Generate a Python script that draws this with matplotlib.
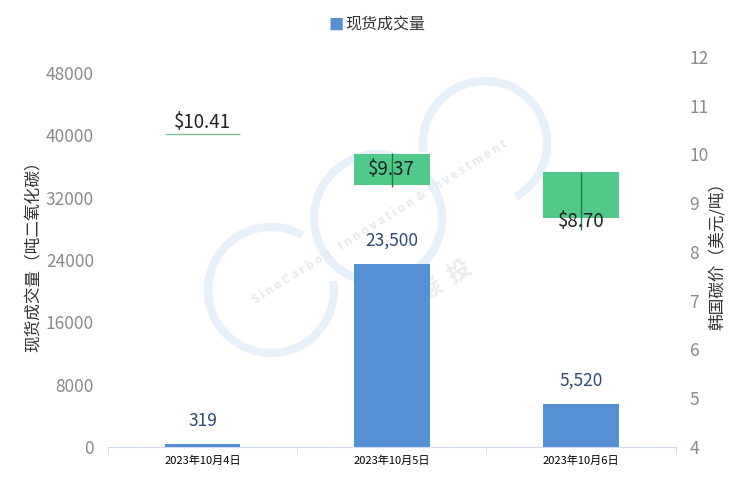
import matplotlib
matplotlib.use('Agg')
import matplotlib.pyplot as plt
import numpy as np
from matplotlib.patches import Arc

plt.rcParams['font.family'] = ['Noto Sans CJK SC', 'DejaVu Sans']

# données
dates = ['2023年10月4日', '2023年10月5日', '2023年10月6日']
volume = [319, 23500, 5520]
price_open = [10.41, 9.37, 8.70]
price_close = [10.41, 10.00, 9.64]
price_low = [10.41, 9.34, 8.45]
price_high = [10.41, 10.02, 9.64]
price_labels = ['$10.41', '$9.37', '$8.70']

bar_color = '#5590d5'
candle_color = '#50c98a'
x = np.arange(len(dates))
w = 0.4

fig = plt.figure(figsize=(7.55, 4.78), dpi=100)

# filigrane (fond, coordonnées en pixels)
bg = fig.add_axes([0, 0, 1, 1], zorder=-1)
bg.set_xlim(0, 755)
bg.set_ylim(478, 0)
bg.axis('off')
for (cx, cy, r, t1, t2) in [(271, 290, 63, 60, 368), (378, 218, 64, 0, 360), (485, 143, 62, -60, 188)]:
    bg.add_patch(Arc((cx, cy), 2 * r, 2 * r, theta1=-t2, theta2=-t1, lw=6, color='#e8f1fa'))
bg.text(380, 222, 'S i n o C a r b o n    I n n o v a t i o n  &  I n v e s t m e n t',
        rotation=32, ha='center', va='center', fontsize=8.5, color='#e6e9ee', fontweight='bold')
bg.text(430, 290, '中  碳  投', rotation=32, ha='center', va='center', fontsize=17, color='#ececec', fontweight='bold')

ax = fig.add_axes([0.143, 0.065, 0.752, 0.816])
ax.patch.set_visible(False)
ax2 = ax.twinx()
ax2.patch.set_visible(False)

ax.bar(x, volume, width=w, color=bar_color, zorder=3)
for xi, v in zip(x, volume):
    ax.text(xi, v + 1800, f'{v:,}', ha='center', va='bottom', fontsize=12.5, color='#2e4a78', zorder=5)

ax.set_xlim(-0.5, len(dates) - 0.5)
ax.set_ylim(0, 50050)
ax.set_yticks(np.arange(0, 48001, 8000))
ax.set_xticks(x)
ax.set_xticklabels(dates, fontsize=8)
ax.set_xticks(np.arange(-0.5, len(dates)), minor=True)
ax.tick_params(axis='x', which='major', length=0, pad=6)
ax.tick_params(axis='x', which='minor', length=5, color='#d0dced')
ax.tick_params(axis='y', length=0, labelsize=12.5, labelcolor='#8a8a8a', pad=10)
ax.set_ylabel('现货成交量（吨二氧化碳）', fontsize=12, color='#333333', labelpad=2)

for s in ['top', 'right', 'left']:
    ax.spines[s].set_visible(False)
ax.spines['bottom'].set_color('#d0dced')

# prix (bougies)
for i in x:
    lo, hi = min(price_open[i], price_close[i]), max(price_open[i], price_close[i])
    if hi - lo < 1e-6:
        ax2.hlines(price_open[i], i - w / 2, i + w / 2, color='#7fbf9a', lw=1, zorder=4)
    else:
        ax2.bar(i, hi - lo, bottom=lo, width=w, color=candle_color, zorder=3)
        ax2.vlines(i, price_low[i], price_high[i], color='#1f7a45', lw=1, zorder=4)

ax2.text(x[0], price_close[0] + 0.02, price_labels[0], ha='center', va='bottom', fontsize=13.5, color='#222222', zorder=6)
ax2.text(x[1], (price_open[1] + price_close[1]) / 2, price_labels[1], ha='center', va='center', fontsize=13.5, color='#222222', zorder=6)
ax2.text(x[2], price_open[2] - 0.08, price_labels[2], ha='center', va='center', fontsize=13.5, color='#222222', zorder=6)

ax2.set_ylim(4, 12)
ax2.set_yticks(range(4, 13))
ax2.tick_params(axis='y', length=0, labelsize=12.5, labelcolor='#8a8a8a', pad=10)
ax2.set_ylabel('韩国碳价（美元/吨）', fontsize=12, color='#333333', labelpad=0)
for s in ['top', 'right', 'left', 'bottom']:
    ax2.spines[s].set_visible(False)

# légende
fig.text(0.445, 0.947, '■', color=bar_color, fontsize=11, ha='center', va='center')
fig.text(0.457, 0.947, '现货成交量', color='#333333', fontsize=11.5, ha='left', va='center')

fig.savefig('out.png', dpi=100)
